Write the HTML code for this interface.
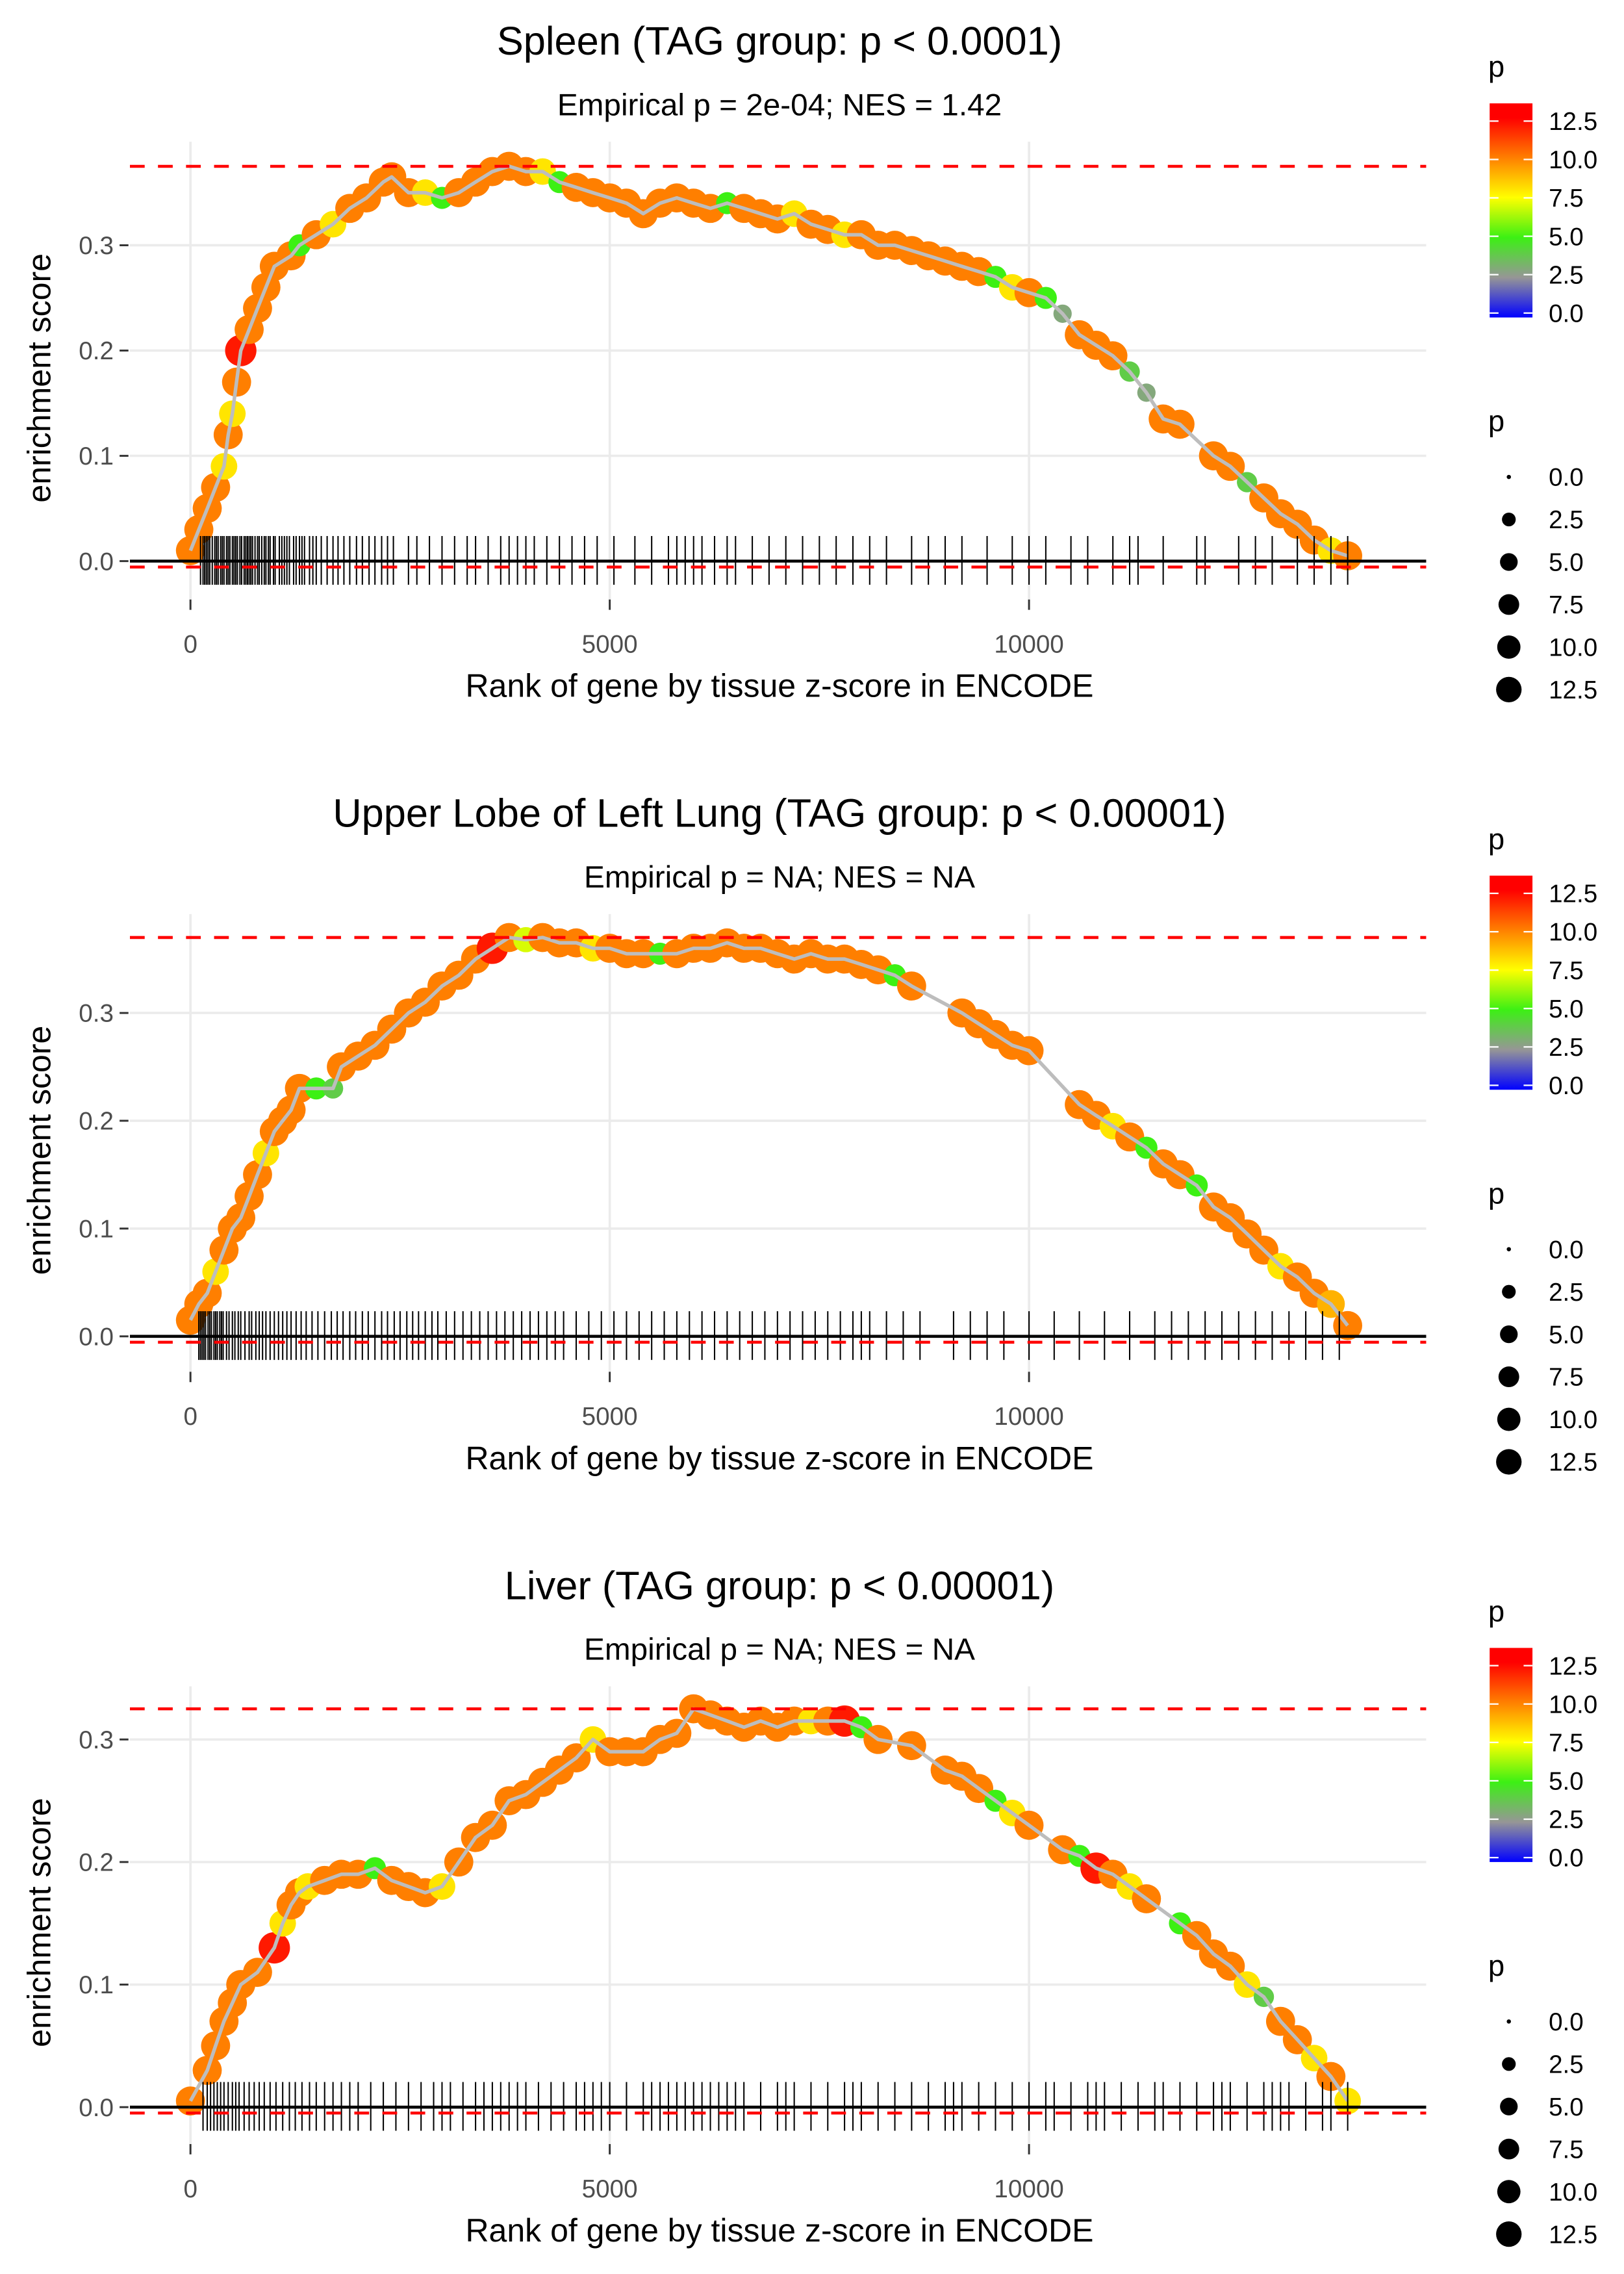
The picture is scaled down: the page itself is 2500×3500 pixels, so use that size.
<!DOCTYPE html>
<html><head><meta charset="utf-8">
<style>
html,body{margin:0;padding:0;background:#fff;}
svg{display:block;font-family:"Liberation Sans",sans-serif;}
</style></head>
<body>
<svg id="chart" width="2500" height="3500" viewBox="0 0 1100 1540" xmlns="http://www.w3.org/2000/svg"></svg>
<script>
// ---- Panel 1: Spleen ----
const ranks1 = [0,100,200,300,400,450,500,550,600,700,800,900,1000,1200,1300,1500,1700,1900,2100,2300,2400,2600,2800,3000,3200,3400,3600,3800,4000,4200,4400,4600,4800,5000,5200,5400,5600,5800,6000,6200,6400,6600,6800,7000,7200,7400,7600,7800,8000,8200,8400,8600,8800,9000,9200,9400,9600,9800,10000,10200,10400,10600,10800,11000,11200,11400,11600,11800,12200,12400,12600,12800,13000,13200,13400,13600,13800];
const es1 = [0.01,0.03,0.05,0.07,0.09,0.12,0.14,0.17,0.2,0.22,0.24,0.26,0.28,0.29,0.3,0.31,0.32,0.335,0.345,0.36,0.365,0.35,0.35,0.345,0.35,0.36,0.37,0.375,0.37,0.37,0.36,0.355,0.35,0.345,0.34,0.33,0.34,0.345,0.34,0.335,0.34,0.335,0.33,0.325,0.33,0.32,0.315,0.31,0.31,0.3,0.3,0.295,0.29,0.285,0.28,0.275,0.27,0.26,0.255,0.25,0.235,0.215,0.205,0.195,0.18,0.16,0.135,0.13,0.1,0.09,0.075,0.06,0.045,0.035,0.02,0.01,0.005];
const p1 = [10,10,10,10,8,10,8,10,12,10,10,10,10,10,5,10,8,10,10,10,10,10,8,5,10,10,10,10,10,8,5,10,10,10,10,10,10,10,10,10,5,10,10,10,8,10,10,8,10,10,10,10,10,10,10,10,5,8,10,5,3,10,10,10,4,3,10,10,10,10,4,10,10,10,10,8,10];
const hits1 = [120,150,170,190,210,230,260,290,310,330,360,380,400,430,450,470,500,520,540,560,590,610,640,660,680,700,720,740,770,800,820,850,880,900,930,950,990,1010,1060,1090,1120,1150,1180,1230,1260,1300,1330,1360,1420,1460,1500,1560,1630,1700,1760,1830,1900,1980,2050,2130,2200,2280,2350,2420,2600,2700,2850,3000,3150,3300,3400,3550,3700,3800,3900,4000,4100,4250,4400,4550,4700,4850,5050,5300,5500,5700,5800,5900,6000,6100,6250,6400,6500,6700,6900,7100,7300,7500,7700,7900,8100,8300,8600,8800,9000,9200,9500,9800,10000,10200,10500,10700,11000,11200,11300,11600,12000,12100,12500,12700,12900,13200,13400,13600,13800];
// ---- Panel 2: Upper Lobe of Left Lung ----
const ranks2 = [0,100,200,300,400,500,600,700,800,900,1000,1100,1200,1300,1500,1700,1800,2000,2200,2400,2600,2800,3000,3200,3400,3600,3800,4000,4200,4400,4600,4800,5000,5200,5400,5600,5800,6000,6200,6400,6600,6800,7000,7200,7400,7600,7800,8000,8200,8400,8600,9200,9400,9600,9800,10000,10600,10800,11000,11200,11400,11600,11800,12000,12200,12400,12600,12800,13000,13200,13400,13600,13800];
const es2 = [0.015,0.03,0.04,0.06,0.08,0.1,0.11,0.13,0.15,0.17,0.19,0.2,0.21,0.23,0.23,0.23,0.25,0.26,0.27,0.285,0.3,0.31,0.325,0.335,0.35,0.36,0.37,0.368,0.37,0.365,0.365,0.36,0.36,0.355,0.355,0.355,0.355,0.36,0.36,0.365,0.36,0.36,0.355,0.35,0.355,0.35,0.35,0.345,0.34,0.335,0.325,0.3,0.29,0.28,0.27,0.265,0.215,0.205,0.195,0.185,0.175,0.16,0.15,0.14,0.12,0.11,0.095,0.08,0.065,0.055,0.04,0.03,0.01];
const p2 = [10,10,10,8,10,10,10,10,10,8,10,10,10,10,5,4,10,10,10,10,10,10,10,10,10,12,10,7,10,10,10,8,10,10,10,5,10,10,10,10,10,10,10,10,10,10,10,10,10,5,10,10,10,10,10,10,10,10,8,10,5,10,10,5,10,10,10,10,8,10,10,9,10];
const hits2 = [100,120,140,160,180,210,230,250,280,300,320,350,370,390,430,460,500,530,570,600,650,700,730,780,820,860,900,950,1000,1050,1100,1150,1200,1260,1320,1380,1450,1520,1600,1680,1750,1820,1900,1970,2050,2120,2200,2280,2350,2430,2500,2580,2650,2720,2800,2880,2950,3050,3150,3250,3350,3450,3550,3650,3750,3850,3950,4050,4150,4250,4350,4450,4600,4750,4900,5050,5200,5350,5500,5650,5800,5950,6100,6250,6400,6550,6700,6850,7000,7150,7300,7450,7600,7750,7900,8000,8100,8300,8500,8700,9100,9300,9500,9700,10000,10300,10600,10900,11200,11500,11700,11900,12100,12300,12500,12700,12900,13100,13300,13500,13700];
// ---- Panel 3: Liver ----
const ranks3 = [0,200,300,400,500,600,800,1000,1100,1200,1300,1400,1600,1800,2000,2200,2400,2600,2800,3000,3200,3400,3600,3800,4000,4200,4400,4600,4800,5000,5200,5400,5600,5800,6000,6200,6400,6600,6800,7000,7200,7400,7600,7800,8000,8200,8600,9000,9200,9400,9600,9800,10000,10400,10600,10800,11000,11200,11400,11800,12000,12200,12400,12600,12800,13000,13200,13400,13600,13800];
const es3 = [0.005,0.03,0.05,0.07,0.085,0.1,0.11,0.13,0.15,0.165,0.175,0.18,0.185,0.19,0.19,0.195,0.185,0.18,0.175,0.18,0.2,0.22,0.23,0.25,0.255,0.265,0.275,0.285,0.3,0.29,0.29,0.29,0.3,0.305,0.325,0.32,0.315,0.31,0.315,0.31,0.315,0.315,0.315,0.315,0.31,0.3,0.295,0.275,0.27,0.26,0.25,0.24,0.23,0.21,0.205,0.195,0.19,0.18,0.17,0.15,0.14,0.125,0.115,0.1,0.09,0.07,0.055,0.04,0.025,0.005];
const p3 = [10,10,10,10,10,10,10,12,8,10,10,8,10,10,10,5,10,10,10,8,10,10,10,10,10,10,10,10,8,10,10,10,10,10,10,10,10,10,10,10,10,8,10,12,5,10,10,10,10,10,5,8,10,10,5,12,10,8,10,5,10,10,10,8,4,10,10,8,10,8];
const hits3 = [150,200,240,280,320,360,400,450,500,540,580,640,700,760,820,880,950,1020,1100,1180,1250,1330,1420,1500,1600,1700,1800,1900,2000,2150,2300,2450,2600,2750,2900,3000,3100,3250,3400,3500,3600,3700,3800,3900,4000,4150,4300,4450,4600,4700,4800,4900,5000,5200,5400,5500,5600,5700,5800,5900,6000,6100,6200,6300,6400,6500,6600,6800,7000,7100,7200,7400,7600,7800,7900,8000,8200,8400,8600,8800,9000,9100,9200,9400,9600,9800,10000,10200,10300,10500,10700,10800,10900,11100,11300,11500,11600,11800,12000,12200,12300,12400,12600,12800,12900,13000,13100,13300,13500,13600,13800];

const xTicks = [0,5000,10000];
const yTicks = [0.0,0.1,0.2,0.3];
const legendVals = [0.0,2.5,5.0,7.5,10.0,12.5];

const titles = ["Spleen (TAG group: p < 0.0001)","Upper Lobe of Left Lung (TAG group: p < 0.00001)","Liver (TAG group: p < 0.00001)"];
const subtitles = ["Empirical p = 2e-04; NES = 1.42","Empirical p = NA; NES = NA","Empirical p = NA; NES = NA"];

const svg = document.getElementById('chart');
const NS = 'http://www.w3.org/2000/svg';
function mk(tag, attrs, parent){
  const e = document.createElementNS(NS, tag);
  for (const k in attrs) e.setAttribute(k, attrs[k]);
  (parent||svg).appendChild(e);
  return e;
}
function colorOf(p){
  const stops=[[0,[0,0,255]],[2.5,[150,150,150]],[5,[60,240,20]],[7.5,[255,255,0]],[10,[255,127,0]],[12.5,[255,0,0]]];
  if(p<=0) return 'rgb(0,0,255)';
  for(let i=1;i<stops.length;i++){
    if(p<=stops[i][0]){
      const a=stops[i-1],b=stops[i],t=(p-a[0])/(b[0]-a[0]);
      const c=a[1].map((v,j)=>Math.round(v+(b[1][j]-v)*t));
      return 'rgb('+c.join(',')+')';
    }
  }
  return 'rgb(255,0,0)';
}
function sizeOf(p){ return 1.8 + 9.0*Math.sqrt(Math.max(p,0)/12.5); }

const panels = [
  {ranks:ranks1, es:es1, p:p1, hits:hits1, off:0,    y0:380, step:71.3},
  {ranks:ranks2, es:es2, p:p2, hits:hits2, off:523,  y0:905, step:73},
  {ranks:ranks3, es:es3, p:p3, hits:hits3, off:1046, y0:1427, step:83}
];
const X0=129, XPER=0.0568, LEFT=88, RIGHT=966;

panels.forEach((P,idx)=>{
  const g = mk('g',{});
  
  
  const xs = v => X0 + v*XPER;
  const ys = v => P.y0 - v*10*P.step;
  const top = 96+P.off, bot = 406+P.off;
  yTicks.forEach(t=>{
    const l = mk('line',{x1:LEFT,x2:RIGHT,y1:ys(t),y2:ys(t),stroke:'#ebebeb','stroke-width':1.6},g);
    
    
    const tk = mk('line',{x1:81,x2:87,y1:ys(t),y2:ys(t),stroke:'#333','stroke-width':1.3},g);
    
    
    const tx = mk('text',{x:77,y:ys(t)+6,'text-anchor':'end','font-size':17,fill:'#4d4d4d'},g);
    tx.textContent = t.toFixed(1);
    
    
  });
  xTicks.forEach(t=>{
    const l = mk('line',{x1:xs(t),x2:xs(t),y1:top,y2:bot,stroke:'#ebebeb','stroke-width':1.6},g);
    
    
    const tk = mk('line',{x1:xs(t),x2:xs(t),y1:bot,y2:bot+7,stroke:'#333','stroke-width':1.3},g);
    
    
    const tx = mk('text',{x:xs(t),y:bot+36,'text-anchor':'middle','font-size':17,fill:'#4d4d4d'},g);
    tx.textContent = String(t);
    
    
  });
  P.ranks.forEach((r,i)=>{
    const c = mk('circle',{cx:xs(r),cy:ys(P.es[i]),r:sizeOf(P.p[i]),fill:colorOf(P.p[i])},g);
    
    
  });
  const pts = P.ranks.map((r,i)=>xs(r).toFixed(1)+','+ys(P.es[i]).toFixed(1)).join(' ');
  const pl = mk('polyline',{points:pts,fill:'none',stroke:'#bdbdbd','stroke-width':2.4,'stroke-linejoin':'round'},g);
  
  
  const z = mk('line',{x1:LEFT,x2:RIGHT,y1:ys(0),y2:ys(0),stroke:'#000','stroke-width':2},g);
  
  
  P.hits.forEach(h=>{
    const t = mk('line',{x1:xs(h),x2:xs(h),y1:ys(0)-17,y2:ys(0)+16,stroke:'#000','stroke-width':0.9},g);
    
    
  });
  const mx = Math.max(...P.es);
  const rd1 = mk('line',{x1:LEFT,x2:RIGHT,y1:ys(mx),y2:ys(mx),stroke:'#ff0000','stroke-width':2,'stroke-dasharray':'10,9'},g);
  
  
  const rd2 = mk('line',{x1:LEFT,x2:RIGHT,y1:ys(0)+4,y2:ys(0)+4,stroke:'#ff0000','stroke-width':2,'stroke-dasharray':'10,9'},g);
  
  
  const tt = mk('text',{x:528,y:37+P.off,'text-anchor':'middle','font-size':27,fill:'#000'},g);
  tt.textContent = titles[idx];
  
  
  const st = mk('text',{x:528,y:78+P.off,'text-anchor':'middle','font-size':21,fill:'#000'},g);
  st.textContent = subtitles[idx];
  
  
  const xt = mk('text',{x:528,y:472+P.off,'text-anchor':'middle','font-size':22,fill:'#000'},g);
  xt.textContent = 'Rank of gene by tissue z-score in ENCODE';
  
  
  const yt = mk('text',{x:0,y:0,'text-anchor':'middle','font-size':22,fill:'#000',transform:'translate(34,'+(256+P.off)+') rotate(-90)'},g);
  yt.textContent = 'enrichment score';
  
  
  const lg = mk('g',{},g);
  
  
  const lt = mk('text',{x:1008,y:52+P.off,'font-size':20,fill:'#000'},lg);
  lt.textContent='p';
  
  
  const gid='grad'+idx;
  const defs = mk('defs',{},lg);
  const grad = mk('linearGradient',{id:gid,x1:0,y1:1,x2:0,y2:0},defs);
  [0,2.5,5,7.5,10,12.5,13.4].forEach(v=>{ mk('stop',{offset:(v/13.4),'stop-color':colorOf(v)},grad); });
  const cbTop=70+P.off, cbBot=215+P.off;
  const rect = mk('rect',{x:1009,y:cbTop,width:29,height:cbBot-cbTop,fill:'url(#'+gid+')'},lg);
  
  
  legendVals.forEach(v=>{
    const yy = cbBot-3 - v/12.5*(cbBot-cbTop-15);
    mk('line',{x1:1009,x2:1015,y1:yy,y2:yy,stroke:'#fff','stroke-width':1},lg);
    mk('line',{x1:1032,x2:1038,y1:yy,y2:yy,stroke:'#fff','stroke-width':1},lg);
    const tx = mk('text',{x:1049,y:yy+6,'font-size':17,fill:'#000'},lg);
    tx.textContent = v.toFixed(1);
    
    
  });
  const sg = mk('g',{},g);
  
  
  const s1 = mk('text',{x:1008,y:292+P.off,'font-size':20,fill:'#000'},sg);
  s1.textContent='p';
  
  
  legendVals.forEach((v,i)=>{
    const yy = 323 + i*28.8 + P.off;
    const c = mk('circle',{cx:1022,cy:yy,r:sizeOf(v)*0.8,fill:'#000'},sg);
    
    
    const tx = mk('text',{x:1049,y:yy+6,'font-size':17,fill:'#000'},sg);
    tx.textContent = v.toFixed(1);
    
    
  });
});
</script>
</body></html>
